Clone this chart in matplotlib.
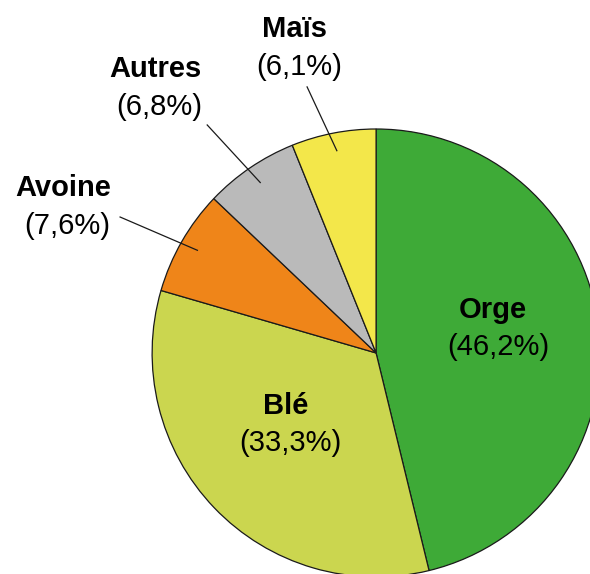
import numpy as np
import matplotlib.pyplot as plt

# ── Data ──────────────────────────────────────────────────────────────────
cereales = ["Orge", "Blé", "Avoine", "Autres", "Maïs"]
parts    = [46.2, 33.3, 7.6, 6.8, 6.1]
couleurs = ["#3eaa37", "#cbd64f", "#ef8519", "#bababa", "#f3e74a"]

# label placement (pie units, radius = 1)
pos_nom  = [(0.522, 0.192), (-0.402, -0.237), (-1.397, 0.737), (-0.987, 1.268), (-0.362, 1.446)]
pos_pct  = [(0.545, 0.027), (-0.384, -0.402), (-1.379, 0.567), (-0.969, 1.098), (-0.344, 1.277)]
# outer end of leader lines (None = label inside the wedge)
pos_fil  = [None, None, (-1.143, 0.607), (-0.754, 1.018), (-0.308, 1.188)]
FIL_R    = 0.92

plt.rcParams["font.family"] = ["Liberation Sans", "DejaVu Sans"]

fig = plt.figure(figsize=(5.90, 5.74), dpi=100)
ax = fig.add_axes([0, 0, 1, 1])

wedges, _ = ax.pie(parts, colors=couleurs, startangle=90, counterclock=False,
                   radius=1.0, center=(0, 0),
                   wedgeprops=dict(edgecolor="#1a1a1a", linewidth=0.9))

ax.set_xlim(-1.679, 0.955)
ax.set_ylim(-0.987, 1.576)
ax.set_aspect("equal")
ax.axis("off")

for w, nom, p, pn, pp, pf in zip(wedges, cereales, parts, pos_nom, pos_pct, pos_fil):
    ax.text(*pn, nom, ha="center", va="center", fontsize=21, fontweight="bold")
    pct = f"({p:.1f}%)".replace(".", ",")
    ax.text(*pp, pct, ha="center", va="center", fontsize=21)
    if pf is not None:
        a = np.deg2rad((w.theta1 + w.theta2) / 2)
        ax.plot([pf[0], FIL_R * np.cos(a)], [pf[1], FIL_R * np.sin(a)],
                color="#1a1a1a", linewidth=0.9)

fig.savefig("out.png", dpi=100)
